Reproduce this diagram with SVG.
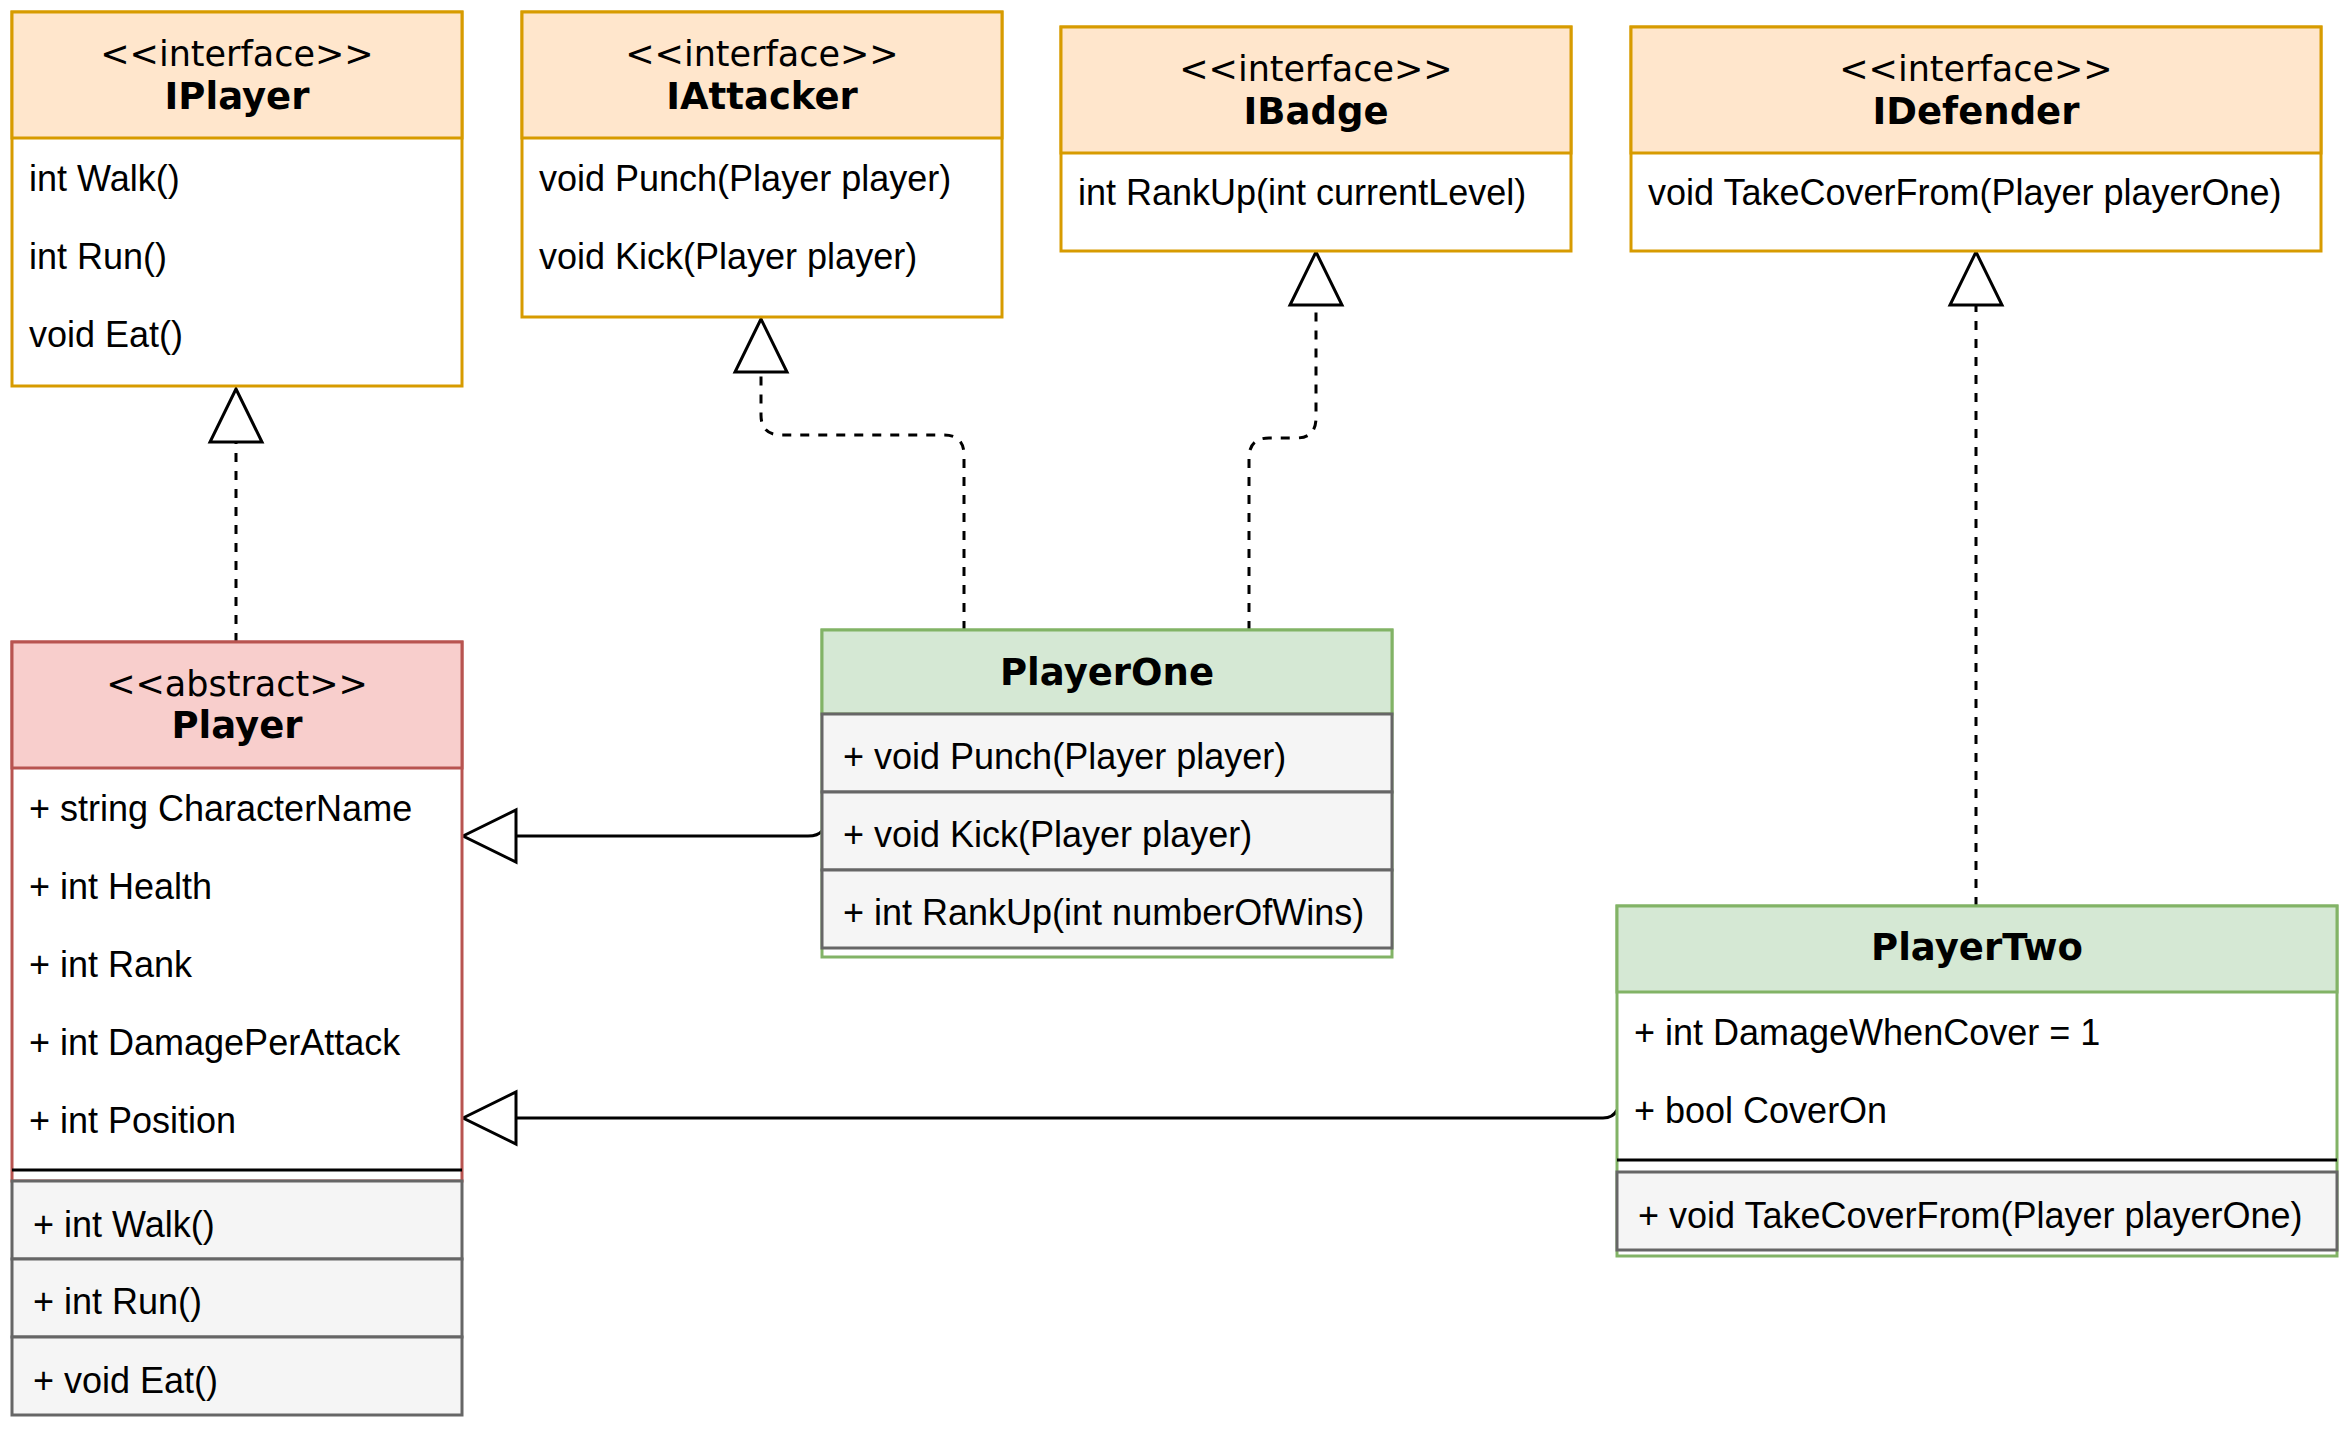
<svg xmlns="http://www.w3.org/2000/svg" width="2351" height="1433" viewBox="0 0 2351 1433">
<defs>
<style>
.bg{fill:#ffffff}
.ifc{fill:#ffffff;stroke:#d79b00;stroke-width:3}
.ifh{fill:#ffe6cc;stroke:#d79b00;stroke-width:3}
.abs{fill:#ffffff;stroke:#b85450;stroke-width:3}
.absh{fill:#f8cecc;stroke:#b85450;stroke-width:3}
.cls{fill:#ffffff;stroke:#82b366;stroke-width:3}
.clsh{fill:#d5e8d4;stroke:#82b366;stroke-width:3}
.row{fill:#f5f5f5;stroke:#666666;stroke-width:3}
.sep{stroke:#000000;stroke-width:3;fill:none}
.st{font-family:"DejaVu Sans",Verdana,sans-serif;font-size:35px;fill:#000;text-anchor:middle}
.nm{font-family:"DejaVu Sans",Verdana,sans-serif;font-size:37px;font-weight:bold;fill:#000;text-anchor:middle}
.tx{font-family:"Liberation Sans",Arial,sans-serif;font-size:36px;fill:#000}
.dash{fill:none;stroke:#000;stroke-width:3;stroke-dasharray:9 9}
.solid{fill:none;stroke:#000;stroke-width:3}
.tri{fill:#ffffff;stroke:#000;stroke-width:3;stroke-linejoin:miter}
</style>
</defs>
<rect class="bg" x="0" y="0" width="2351" height="1433"/>

<g id="connectors">
<path class="dash" d="M236,642 L236,442"/>
<polygon class="tri" points="236,389 210,442 262,442"/>
<path class="dash" d="M964,630 L964,455 Q964,435 944,435 L781,435 Q761,435 761,415 L761,372"/>
<polygon class="tri" points="761,319 735,372 787,372"/>
<path class="dash" d="M1249,630 L1249,458 Q1249,438 1269,438 L1296,438 Q1316,438 1316,418 L1316,305"/>
<polygon class="tri" points="1316,252 1290,305 1342,305"/>
<path class="dash" d="M1976,906 L1976,305"/>
<polygon class="tri" points="1976,252 1950,305 2002,305"/>
<path class="solid" d="M822,831 Q818,836 808,836 L516,836"/>
<polygon class="tri" points="463,836 516,810 516,862"/>
<path class="solid" d="M1617,1110 Q1613,1118 1603,1118 L516,1118"/>
<polygon class="tri" points="463,1118 516,1092 516,1144"/>
</g>

<g id="IPlayer">
<rect class="ifc" x="12" y="12" width="450" height="374"/>
<rect class="ifh" x="12" y="12" width="450" height="126"/>
<text class="st" x="237" y="66">&lt;&lt;interface&gt;&gt;</text>
<text class="nm" x="237" y="109">IPlayer</text>
<text class="tx" x="29" y="191">int Walk()</text>
<text class="tx" x="29" y="269">int Run()</text>
<text class="tx" x="29" y="347">void Eat()</text>
</g>

<g id="IAttacker">
<rect class="ifc" x="522" y="12" width="480" height="305"/>
<rect class="ifh" x="522" y="12" width="480" height="126"/>
<text class="st" x="762" y="66">&lt;&lt;interface&gt;&gt;</text>
<text class="nm" x="762" y="109">IAttacker</text>
<text class="tx" x="539" y="191">void Punch(Player player)</text>
<text class="tx" x="539" y="269">void Kick(Player player)</text>
</g>

<g id="IBadge">
<rect class="ifc" x="1061" y="27" width="510" height="224"/>
<rect class="ifh" x="1061" y="27" width="510" height="126"/>
<text class="st" x="1316" y="81">&lt;&lt;interface&gt;&gt;</text>
<text class="nm" x="1316" y="124">IBadge</text>
<text class="tx" x="1078" y="205">int RankUp(int currentLevel)</text>
</g>

<g id="IDefender">
<rect class="ifc" x="1631" y="27" width="690" height="224"/>
<rect class="ifh" x="1631" y="27" width="690" height="126"/>
<text class="st" x="1976" y="81">&lt;&lt;interface&gt;&gt;</text>
<text class="nm" x="1976" y="124">IDefender</text>
<text class="tx" x="1648" y="205">void TakeCoverFrom(Player playerOne)</text>
</g>

<g id="Player">
<rect class="abs" x="12" y="642" width="450" height="539"/>
<rect class="absh" x="12" y="642" width="450" height="126"/>
<text class="st" x="237" y="696">&lt;&lt;abstract&gt;&gt;</text>
<text class="nm" x="237" y="738">Player</text>
<text class="tx" x="29" y="821">+ string CharacterName</text>
<text class="tx" x="29" y="899">+ int Health</text>
<text class="tx" x="29" y="977">+ int Rank</text>
<text class="tx" x="29" y="1055">+ int DamagePerAttack</text>
<text class="tx" x="29" y="1133">+ int Position</text>
<line class="sep" x1="12" y1="1170" x2="462" y2="1170"/>
<rect class="row" x="12" y="1181" width="450" height="78"/>
<rect class="row" x="12" y="1259" width="450" height="78"/>
<rect class="row" x="12" y="1337" width="450" height="78"/>
<text class="tx" x="33" y="1237">+ int Walk()</text>
<text class="tx" x="33" y="1314">+ int Run()</text>
<text class="tx" x="33" y="1393">+ void Eat()</text>
</g>

<g id="PlayerOne">
<rect class="cls" x="822" y="630" width="570" height="327"/>
<rect class="clsh" x="822" y="630" width="570" height="84"/>
<text class="nm" x="1107" y="685">PlayerOne</text>
<rect class="row" x="822" y="714" width="570" height="78"/>
<rect class="row" x="822" y="792" width="570" height="78"/>
<rect class="row" x="822" y="870" width="570" height="78"/>
<text class="tx" x="843" y="769">+ void Punch(Player player)</text>
<text class="tx" x="843" y="847">+ void Kick(Player player)</text>
<text class="tx" x="843" y="925">+ int RankUp(int numberOfWins)</text>
</g>

<g id="PlayerTwo">
<rect class="cls" x="1617" y="906" width="720" height="350"/>
<rect class="clsh" x="1617" y="906" width="720" height="86"/>
<text class="nm" x="1977" y="960">PlayerTwo</text>
<text class="tx" x="1634" y="1045">+ int DamageWhenCover = 1</text>
<text class="tx" x="1634" y="1123">+ bool CoverOn</text>
<line class="sep" x1="1617" y1="1160" x2="2337" y2="1160"/>
<rect class="row" x="1617" y="1172" width="720" height="78"/>
<text class="tx" x="1638" y="1228">+ void TakeCoverFrom(Player playerOne)</text>
</g>
</svg>
